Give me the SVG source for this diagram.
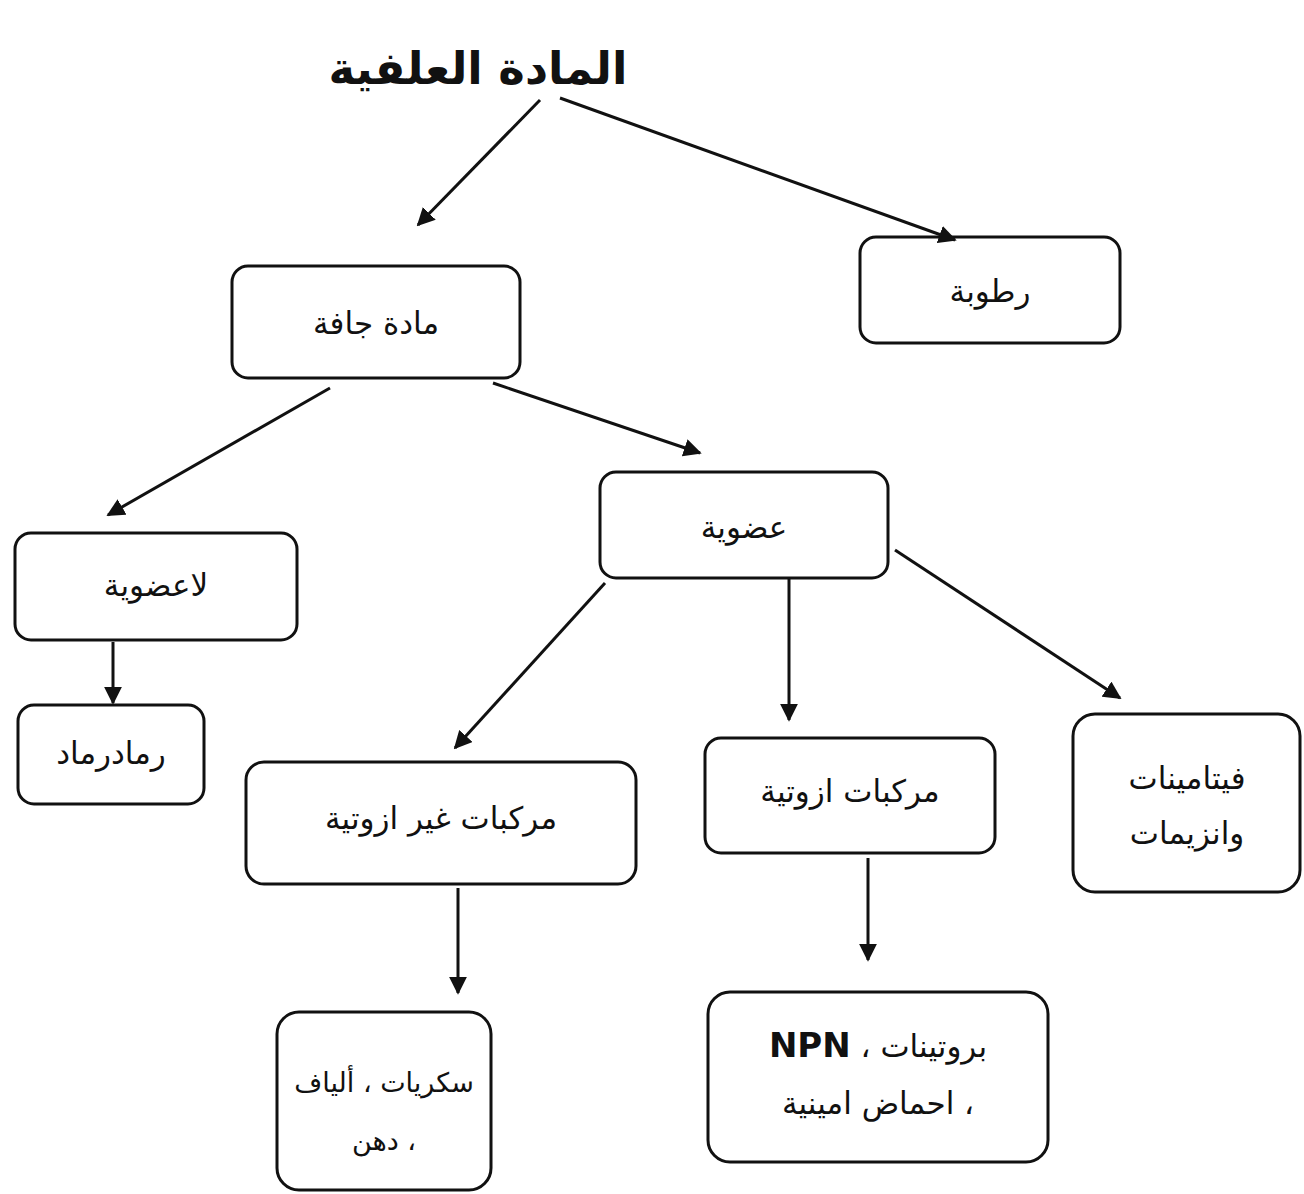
<svg xmlns="http://www.w3.org/2000/svg" width="1304" height="1194" viewBox="0 0 1304 1194">
<defs>
<style>
.box{fill:#fff;stroke:#111;stroke-width:3}
.t{font-family:"DejaVu Sans","Liberation Sans",sans-serif;font-size:31px;fill:#111;text-anchor:middle;direction:rtl}
.c{stroke:#111;stroke-width:3;fill:none;marker-end:url(#ah)}
</style>
<marker id="ah" viewBox="0 0 10 10" refX="9" refY="5" markerWidth="6" markerHeight="6" orient="auto" markerUnits="strokeWidth">
<path d="M0,0 L10,5 L0,10 z" fill="#111"/>
</marker>
</defs>
<rect width="1304" height="1194" fill="#fff"/>
<g id="title"><text x="478" y="84" class="t" style="font-size:45px;font-weight:bold">المادة العلفية</text></g>
<g id="ratoba"><rect class="box" x="860" y="237" width="260" height="106" rx="16"/><text class="t" x="990" y="302">رطوبة</text></g>
<g id="jaffa"><rect class="box" x="232" y="266" width="288" height="112" rx="16"/><text class="t" x="376" y="334">مادة جافة</text></g>
<g id="odwia"><rect class="box" x="600" y="472" width="288" height="106" rx="16"/><text class="t" x="744" y="538">عضوية</text></g>
<g id="laodwia"><rect class="box" x="15" y="533" width="282" height="107" rx="16"/><text class="t" x="156" y="596">لاعضوية</text></g>
<g id="ramad"><rect class="box" x="18" y="705" width="186" height="99" rx="16"/><text class="t" x="111" y="764">رمادرماد</text></g>
<g id="ghair"><rect class="box" x="246" y="762" width="390" height="122" rx="18"/><text class="t" x="441" y="829">مركبات غير ازوتية</text></g>
<g id="azot"><rect class="box" x="705" y="738" width="290" height="115" rx="16"/><text class="t" x="850" y="802">مركبات ازوتية</text></g>
<g id="vit"><rect class="box" x="1073" y="714" width="227" height="178" rx="22"/><text class="t" x="1187" y="789">فيتامينات</text><text class="t" x="1187" y="844">وانزيمات</text></g>
<g id="sokar"><rect class="box" x="277" y="1012" width="214" height="178" rx="22"/><text class="t" x="384" y="1092" style="font-size:27px">سكريات ، ألياف</text><text class="t" x="384" y="1150" style="font-size:27px">، دهن</text></g>
<g id="protein"><rect class="box" x="708" y="992" width="340" height="170" rx="22"/><text class="t" x="878" y="1057"><tspan>بروتينات ، </tspan><tspan style="font-weight:bold;font-size:34px"> NPN</tspan></text><text class="t" x="878" y="1114">، احماض امينية</text></g>
<g id="connectors">
<line class="c" x1="540" y1="100" x2="418" y2="225"/>
<line class="c" x1="560" y1="98" x2="955" y2="240"/>
<line class="c" x1="330" y1="388" x2="108" y2="515"/>
<line class="c" x1="493" y1="383" x2="700" y2="453"/>
<line class="c" x1="113" y1="642" x2="113" y2="703"/>
<line class="c" x1="605" y1="583" x2="455" y2="748"/>
<line class="c" x1="789" y1="578" x2="789" y2="720"/>
<line class="c" x1="895" y1="550" x2="1120" y2="698"/>
<line class="c" x1="458" y1="888" x2="458" y2="993"/>
<line class="c" x1="868" y1="858" x2="868" y2="960"/>
</g>
</svg>
